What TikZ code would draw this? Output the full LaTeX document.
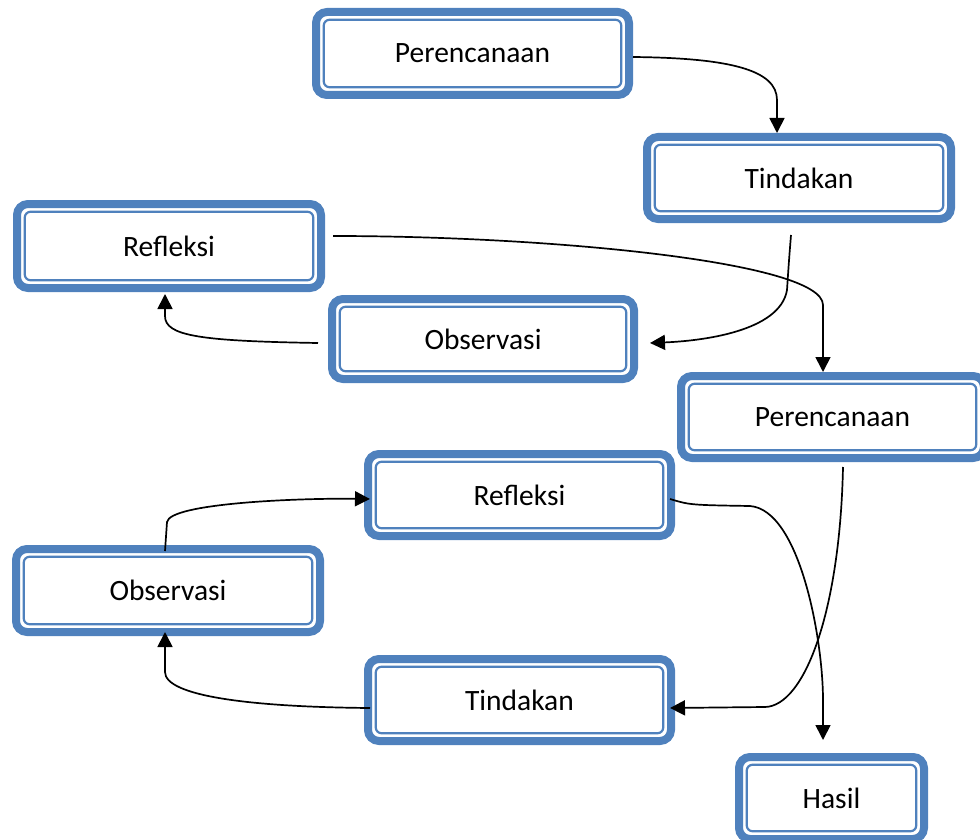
\documentclass[tikz,border=0pt]{standalone}
\usepackage{fontspec}
\setmainfont{Carlito}
\usetikzlibrary{arrows.meta}
\definecolor{boxblue}{HTML}{4F81BD}
\begin{document}
\begin{tikzpicture}[x=1pt,y=-1pt,
  box/.style={draw=boxblue, line width=8pt, rounded corners=11pt, inner sep=0pt,
    minimum height=82pt, minimum width=303pt, fill=white,
    font=\fontsize{29.5}{34}\selectfont,
    path picture={\draw[boxblue, line width=2.2pt, rounded corners=6pt]
      ([shift={(7.7pt,7.7pt)}]path picture bounding box.south west) rectangle
      ([shift={(-7.7pt,-7.7pt)}]path picture bounding box.north east);}},
  arr/.style={line width=1.7pt, -{Triangle[width=15pt,length=15pt]}}]
\useasboundingbox (0,0) rectangle (980,840);

\node[box, minimum width=313pt, minimum height=83pt] (P1) at (472.5,53.5) {Perencanaan};
\node[box, minimum width=304pt] (T1) at (799,178) {Tindakan};
\node[box, minimum width=304pt, minimum height=84pt] (R1) at (169,246) {Refleksi};
\node[box, minimum width=302pt, minimum height=80pt] (O1) at (483,339) {Observasi};
\node[box] (P2) at (832.5,417) {Perencanaan};
\node[box] (R2) at (519.5,495) {Refleksi};
\node[box, minimum width=304pt, minimum height=83pt] (O2) at (168,590.5) {Observasi};
\node[box] (T2) at (519.5,700) {Tindakan};
\node[box, minimum width=185pt] (H) at (831.5,798) {Hasil};

% Perencanaan -> Tindakan
\draw[arr] ([yshift=-3.5pt]P1.east) .. controls (730,58) and (777,70) .. (777,100)
  -- ([xshift=-22pt]T1.north);
% Tindakan -> Observasi
\draw[arr] ([xshift=-8pt,yshift=-12pt]T1.south) .. controls (789,260) .. (787,290)
  .. controls (780,332) and (700,341) .. ([xshift=12pt,yshift=-4pt]O1.east);
% Refleksi -> Perencanaan 2
\draw[arr] ([xshift=8pt,yshift=10pt]R1.east) .. controls (550,236) and (823,262) .. (823,305)
  -- ([xshift=-9.5pt]P2.north);
% Observasi -> Refleksi
\draw[arr] ([xshift=-10pt,yshift=-4pt]O1.west) .. controls (200,341) and (165,336) .. (165,316)
  -- ([xshift=-4pt,yshift=-2pt]R1.south);
% Perencanaan 2 -> Tindakan 2
\draw[arr] ([xshift=10.5pt,yshift=-5pt]P2.south) .. controls (840,610) and (805,706) .. (765,707)
  -- ([xshift=-5pt,yshift=-8pt]T2.east);
% Refleksi 2 -> Hasil
\draw[arr] ([xshift=-5pt,yshift=-4pt]R2.east) .. controls (690,505) .. (750,506)
  .. controls (800,510) and (823,640) .. (823,700) -- ([xshift=-8.5pt,yshift=13pt]H.north);
% Observasi 2 -> Refleksi 2
\draw[arr] ([xshift=-3pt,yshift=-6pt]O2.north) -- (167,522)
  .. controls (170,503) and (300,498) .. ([xshift=6pt,yshift=-4pt]R2.west);
% Tindakan 2 -> Observasi 2
\draw[arr] ([xshift=6pt,yshift=-8pt]T2.west) .. controls (250,707) and (165,696) .. (165,672)
  -- ([xshift=-3pt,yshift=4pt]O2.south);
\end{tikzpicture}
\end{document}
